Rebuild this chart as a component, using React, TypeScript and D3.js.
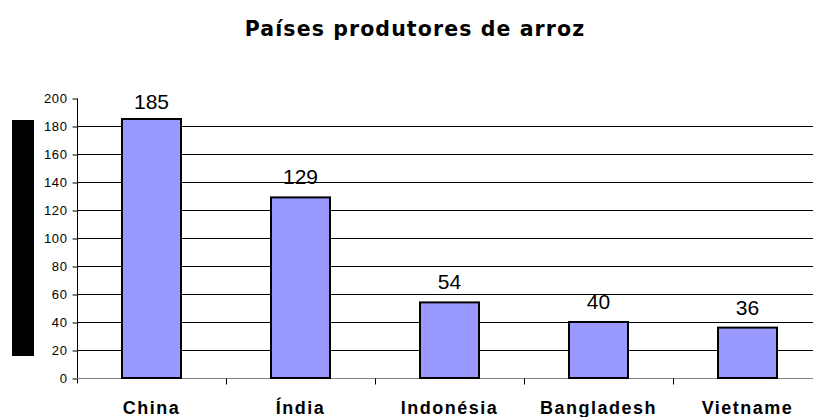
import React, { useEffect, useRef } from "react";
import * as d3 from "d3";

const countries = ["China", "Índia", "Indonésia", "Bangladesh", "Vietname"];
const production = [185, 129, 54, 40, 36];
const yTicks = [0, 20, 40, 60, 80, 100, 120, 140, 160, 180, 200];

const W = 813;
const H = 417;

export default function App() {
  const ref = useRef<SVGSVGElement | null>(null);

  useEffect(() => {
    const svg = d3.select(ref.current);
    svg.selectAll("*").remove();

    const left = 77;
    const bandW = 149;
    const x = d3
      .scaleBand<string>()
      .domain(countries)
      .range([left, left + bandW * countries.length])
      .paddingInner(0)
      .paddingOuter(0);
    const y = d3.scaleLinear().domain([0, 200]).range([378, 98]);

    svg.append("rect").attr("width", W).attr("height", H).attr("fill", "#fff");

    // title
    svg
      .append("text")
      .attr("x", 415)
      .attr("y", 36)
      .attr("text-anchor", "middle")
      .style("font-family", "DejaVu Sans, Verdana, sans-serif")
      .style("font-size", "20.5px")
      .style("font-weight", "bold")
      .style("letter-spacing", "1.1px")
      .text("Países produtores de arroz");

    // black box where the y title sits
    svg
      .append("rect")
      .attr("x", 12)
      .attr("y", 120)
      .attr("width", 22)
      .attr("height", 236)
      .attr("fill", "#000");

    // gridlines (none at the top value)
    svg
      .append("g")
      .selectAll("line")
      .data(yTicks.filter((d) => d > 0 && d < 200))
      .enter()
      .append("line")
      .attr("x1", left)
      .attr("x2", W)
      .attr("y1", (d) => y(d) + 0.5)
      .attr("y2", (d) => y(d) + 0.5)
      .attr("stroke", "#000")
      .attr("stroke-width", 1);

    // y axis
    const yAxis = svg
      .append("g")
      .attr("transform", `translate(${left + 0.5},0.5)`)
      .call(d3.axisLeft(y).tickValues(yTicks).tickSize(5).tickPadding(5));
    yAxis.select(".domain").attr("stroke", "#000").attr("d", `M0,${y(200)}V${y(0) + 5}`);
    yAxis.selectAll("line").attr("stroke", "#000");
    yAxis
      .selectAll("text")
      .style("font-family", "Liberation Sans, Arial, sans-serif")
      .style("font-size", "13px")
      .style("letter-spacing", "0.6px")
      .attr("fill", "#000");

    // x axis
    const xAxis = svg.append("g").attr("transform", `translate(0,${y(0) + 0.5})`);
    xAxis
      .append("line")
      .attr("x1", left)
      .attr("x2", W)
      .attr("stroke", "#808080")
      .attr("stroke-width", 1);
    xAxis
      .selectAll("line.tick")
      .data(countries.slice(1))
      .enter()
      .append("line")
      .attr("class", "tick")
      .attr("x1", (d) => (x(d) as number) + 0.5)
      .attr("x2", (d) => (x(d) as number) + 0.5)
      .attr("y1", 0)
      .attr("y2", 6)
      .attr("stroke", "#000");
    xAxis
      .selectAll("text")
      .data(countries)
      .enter()
      .append("text")
      .attr("x", (d) => (x(d) as number) + x.bandwidth() / 2)
      .attr("y", 35)
      .attr("text-anchor", "middle")
      .style("font-family", "Liberation Sans, Arial, sans-serif")
      .style("font-size", "18px")
      .style("font-weight", "bold")
      .style("letter-spacing", "1.5px")
      .text((d) => d);

    // bars
    const barW = 59;
    const data = countries.map((c, i) => ({ c, v: production[i] }));
    svg
      .append("g")
      .selectAll("rect")
      .data(data)
      .enter()
      .append("rect")
      .attr("x", (d) => (x(d.c) as number) + x.bandwidth() / 2 - barW / 2)
      .attr("y", (d) => y(d.v))
      .attr("width", barW)
      .attr("height", (d) => y(0) - y(d.v))
      .attr("fill", "#9999FF")
      .attr("stroke", "#000")
      .attr("stroke-width", 2);

    svg
      .append("g")
      .selectAll("text")
      .data(data)
      .enter()
      .append("text")
      .attr("x", (d) => (x(d.c) as number) + x.bandwidth() / 2)
      .attr("y", (d) => Math.max(y(d.v) - 13, 109))
      .attr("text-anchor", "middle")
      .style("font-family", "Liberation Sans, Arial, sans-serif")
      .style("font-size", "21px")
      .attr("fill", "#000")
      .text((d) => d.v);
  }, []);

  return (
    <svg
      ref={ref}
      width={W}
      height={H}
      style={{ position: "absolute", left: 0, top: 0, display: "block" }}
    />
  );
}
